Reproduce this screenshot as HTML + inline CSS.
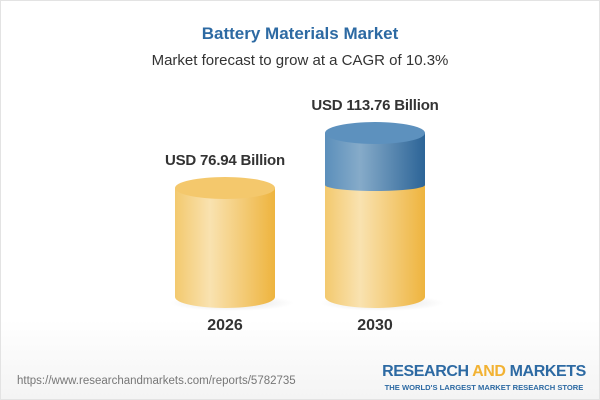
<!DOCTYPE html>
<html><head><meta charset="utf-8"><style>
body{margin:0;width:600px;height:400px;overflow:hidden;background:#fff;font-family:"Liberation Sans",sans-serif}
.f{position:absolute;left:0;top:0;width:598px;height:398px;border:1px solid #e3e3e3;background:linear-gradient(#fff 80%,#f4f4f4)}
.t{position:absolute;width:600px;text-align:center}
</style></head><body><div class="f"></div>
<div class="t" style="top:24px;font-size:17px;font-weight:bold;color:#2d6aa3">Battery Materials Market</div>
<div class="t" style="top:52px;font-size:15px;color:#333">Market forecast to grow at a CAGR of 10.3%</div>
<svg style="position:absolute;left:0;top:0" width="600" height="400">
<defs>
<linearGradient id="y" x1="0" x2="1"><stop offset="0" stop-color="#f3c96e"/><stop offset=".35" stop-color="#f9e2b0"/><stop offset="1" stop-color="#eeb43e"/></linearGradient>
<linearGradient id="b" x1="0" x2="1"><stop offset="0" stop-color="#5b8fbb"/><stop offset=".35" stop-color="#86abc9"/><stop offset="1" stop-color="#2c6497"/></linearGradient>
<radialGradient id="s"><stop offset="0" stop-color="#000" stop-opacity=".12"/><stop offset="1" stop-color="#000" stop-opacity="0"/></radialGradient>
</defs>
<ellipse cx="232" cy="303" rx="62" ry="8" fill="url(#s)"/>
<ellipse cx="382" cy="303" rx="62" ry="8" fill="url(#s)"/>
<path d="M175 188 V297 A50 11 0 0 0 275 297 V188 Z" fill="url(#y)"/>
<ellipse cx="225" cy="188" rx="50" ry="11" fill="#f4c86c"/>
<path d="M325 185 V297 A50 11 0 0 0 425 297 V185 Z" fill="url(#y)"/>
<path d="M325 133 V185 A50 6 0 0 0 425 185 V133 Z" fill="url(#b)"/>
<ellipse cx="375" cy="133" rx="50" ry="11" fill="#5d91be"/>
</svg>
<div class="t" style="left:-75px;top:152px;font-size:15px;font-weight:bold;color:#333;letter-spacing:-.2px">USD 76.94 Billion</div>
<div class="t" style="left:75px;top:97px;font-size:15px;font-weight:bold;color:#333;letter-spacing:-.2px">USD 113.76 Billion</div>
<div class="t" style="left:-75px;top:317px;font-size:16px;font-weight:bold;color:#333">2026</div>
<div class="t" style="left:75px;top:317px;font-size:16px;font-weight:bold;color:#333">2030</div>
<div style="position:absolute;left:17px;top:375px;font-size:11.5px;color:#777">https://www.researchandmarkets.com/reports/5782735</div>
<div style="position:absolute;left:374px;top:363px;width:220px;text-align:center;font-size:16px;font-weight:bold;color:#2d6aa3;letter-spacing:-.4px;white-space:nowrap">RESEARCH <span style="color:#f2b233">AND</span> MARKETS</div>
<div style="position:absolute;left:374px;top:383px;width:220px;text-align:center;font-size:7.6px;font-weight:bold;color:#2d6aa3;white-space:nowrap">THE WORLD'S LARGEST MARKET RESEARCH STORE</div>
</body></html>
